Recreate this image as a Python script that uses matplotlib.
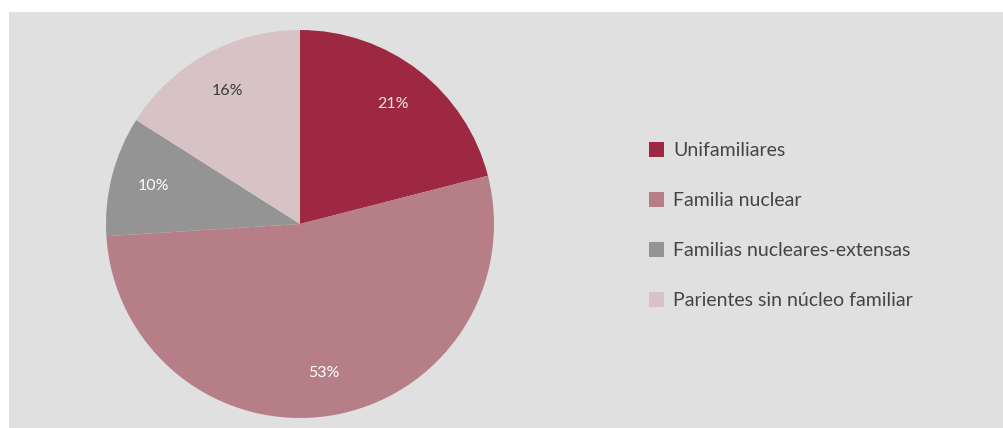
import matplotlib
matplotlib.use("Agg")
import matplotlib.pyplot as plt
from matplotlib.patches import Rectangle, Patch

categories = ["Unifamiliares", "Familia nuclear", "Familias nucleares-extensas", "Parientes sin núcleo familiar"]
values = [21, 53, 10, 16]
colors = ["#9e2842", "#b67f87", "#949494", "#d7c3c6"]
label_colors = ["#f3e3e6", "#ffffff", "#ffffff", "#3a3a3a"]

plt.rcParams['font.family'] = ['Lato', 'DejaVu Sans']

W, H = 1004, 428
fig = plt.figure(figsize=(W / 100, H / 100), dpi=100, facecolor="white")
bg = Rectangle((9 / W, 0), 1 - 9 / W, (H - 12) / H, transform=fig.transFigure,
               facecolor="#e0e0e0", edgecolor="none", zorder=-10)
fig.patches.append(bg)

cx, cy, r = 300, 224, 194
ax = fig.add_axes([(cx - r) / W, (H - cy - r) / H, 2 * r / W, 2 * r / H])
ax.set_zorder(5)
ax.set_facecolor("none")
wedges, texts, autotexts = ax.pie(values, colors=colors, startangle=90, counterclock=False,
                                  autopct=lambda p: f"{p:.0f}%", pctdistance=0.78,
                                  wedgeprops=dict(linewidth=0), radius=1.0)
for t, c in zip(autotexts, label_colors):
    t.set_color(c)
    t.set_fontsize(11.5)
ax.set_xlim(-1, 1)
ax.set_ylim(-1, 1)
ax.set_aspect("equal")
ax.axis("off")

handles = [Patch(facecolor=c, edgecolor="none") for c in colors]
leg = fig.legend(handles, categories, loc="upper left", bbox_to_anchor=(649 / W, 1 - 142 / H),
                 frameon=False, fontsize=14, labelspacing=1.7, handlelength=0.78,
                 handleheight=0.78, handletextpad=0.45, borderaxespad=0, borderpad=0)
leg.set_zorder(6)
for t in leg.get_texts():
    t.set_color("#444444")

fig.savefig("out.png", dpi=100, facecolor="white")
